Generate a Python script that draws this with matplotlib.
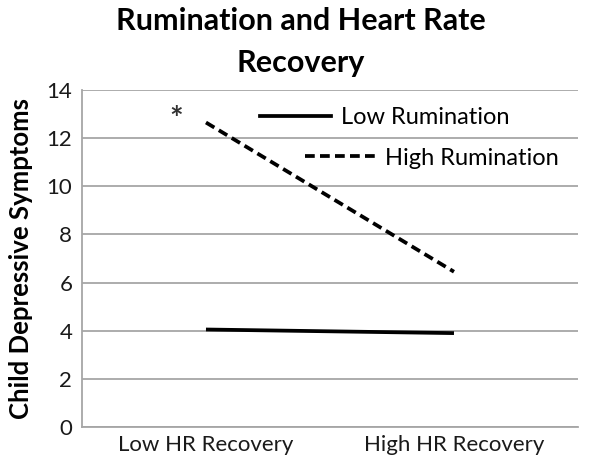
import matplotlib.pyplot as plt
from matplotlib.lines import Line2D

categories = ["Low HR Recovery", "High HR Recovery"]
low_rumination = [4.05, 3.9]
high_rumination = [12.65, 6.45]
yticks = [0, 2, 4, 6, 8, 10, 12, 14]

plt.rcParams["font.family"] = ["Lato", "DejaVu Sans"]

fig = plt.figure(figsize=(6.01, 4.70), dpi=100)
ax = fig.add_axes([0.1364, 0.0915, 0.8253, 0.717])

x = range(len(categories))
dash = (0, (2.6, 1.4))
ax.plot(x, low_rumination, color="black", lw=2.7, solid_capstyle="butt")
ax.plot(x, high_rumination, color="black", lw=2.7, linestyle=dash)

# significance marker
ax.text(-0.12, 12.75, "*", fontsize=23, fontweight="bold", ha="center", va="center", color="#333333")

ax.set_xlim(-0.5, 1.5)
ax.set_ylim(0, 14)
ax.set_yticks(yticks)
ax.set_xticks(list(x))
ax.set_xticklabels(categories)
ax.tick_params(length=0, labelsize=16, colors="#1a1a1a")
ax.tick_params(axis="x", pad=6)
ax.tick_params(axis="y", pad=7)
ax.yaxis.grid(True, color="#a6a6a6", lw=1.3)
ax.set_axisbelow(True)
for s in ["top", "right"]:
    ax.spines[s].set_visible(False)
for s in ["left", "bottom"]:
    ax.spines[s].set_color("#a6a6a6")
    ax.spines[s].set_linewidth(1.3)

ax.set_ylabel("Child Depressive Symptoms", fontsize=18.5, fontweight="bold", labelpad=10)
fig.suptitle("Rumination and Heart Rate\nRecovery", fontsize=22, fontweight="bold",
             x=0.5, y=0.985, linespacing=1.6)

h_low = Line2D([], [], color="black", lw=2.7)
h_high = Line2D([], [], color="black", lw=2.7, linestyle=dash)
leg1 = ax.legend([h_low], ["Low Rumination"], loc="center left", bbox_to_anchor=(0.359, 0.917),
                 frameon=False, fontsize=17, handlelength=3.0, handletextpad=0.42,
                 borderpad=0, borderaxespad=0)
ax.add_artist(leg1)
ax.legend([h_high], ["High Rumination"], loc="center left", bbox_to_anchor=(0.45, 0.798),
          frameon=False, fontsize=17, handlelength=3.1, handletextpad=0.3,
          borderpad=0, borderaxespad=0)

fig.savefig("out.png", dpi=100)
